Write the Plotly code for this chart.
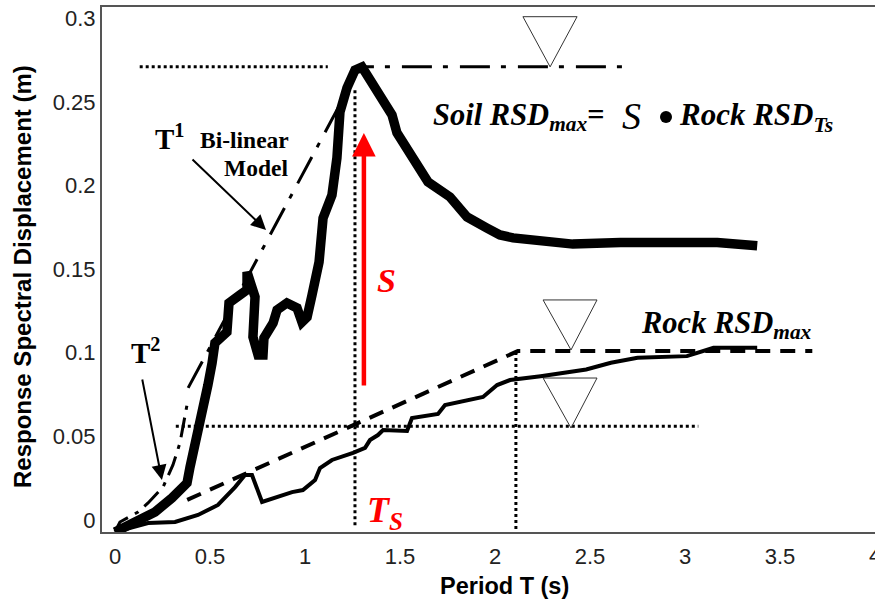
import plotly.graph_objects as go

soil_t = [0, .105, .211, .3, .379, .395, .421, .447, .474, .489, .511, .526, .589, .6, .658, .695, .695, .737, .726, .753, .779, .784, .832, .853, .905, .958, .984, 1.011, 1.037, 1.063, 1.074, 1.095, 1.142, 1.168, 1.184, 1.221, 1.263, 1.3, 1.353, 1.458, 1.484, 1.553, 1.647, 1.763, 1.853, 1.958, 2.026, 2.095, 2.41, 2.66, 2.83, 3.17, 3.38]
soil_rsd = [-.0072, -.0018, .0048, .0132, .0221, .0317, .0437, .058, .0718, .0807, .0939, .1059, .1124, .1298, .1346, .1376, .1483, .1334, .1094, .0987, .0987, .1089, .1178, .1256, .1298, .1268, .1184, .1214, .1346, .1453, .1543, .1806, .1944, .2165, .244, .2584, .2691, .2709, .262, .2422, .2315, .2201, .2022, .1932, .1812, .1746, .1705, .1687, .165, .166, .166, .166, .164]
rock_t = [0, .174, .316, .437, .542, .632, .684, .721, .774, .858, .932, .989, 1.053, 1.079, 1.142, 1.253, 1.316, 1.342, 1.384, 1.411, 1.537, 1.563, 1.7, 1.737, 1.937, 2.011, 2.079, 2.24, 2.48, 2.61, 2.75, 3.01, 3.15, 3.38]
rock_rsd = [-.0072, -.0018, -.0012, .003, .009, .0197, .0269, .0269, .0108, .0138, .0167, .0179, .0239, .0311, .0359, .0401, .0431, .0478, .0508, .0538, .0532, .061, .0634, .0688, .0736, .0807, .0837, .086, .090, .094, .097, .098, .103, .103]
rock_model_t = [.38, 2.12, 3.67]
rock_model_rsd = [.012, .101, .101]
t2_t = [0, .026, .121, .174, .253, .305, .342, .379]
t2_rsd = [-.007, -.0012, .0048, .0102, .0197, .0329, .0461, .0688]
t1_t = [.385, 1.29, 2.67]
t1_rsd = [.079, .271, .271]
guides = [
    ([.13, 1.12], [.271, .271]),
    ([1.263, 1.263], [.257, -.005]),
    ([.32, 3.07], [.056, .056]),
    ([2.11, 2.11], [.1005, -.0066]),
]
triangles = [
    ([2.147, 2.432, 2.29, 2.147], [.301, .301, .271, .301]),
    ([2.253, 2.537, 2.40, 2.253], [.1316, .1316, .1017, .1316]),
    ([2.253, 2.537, 2.40, 2.253], [.0849, .0849, .055, .0849]),
]
product_dot_t = [2.9]
product_dot_rsd = [.241]
x_ticks = [0, .5, 1, 1.5, 2, 2.5, 3, 3.5, 4]
x_labels = ["0", "0.5", "1", "1.5", "2", "2.5", "3", "3.5", "4"]
y_ticks = [0, .05, .1, .15, .2, .25, .3]
y_labels = ["0", "0.05", "0.1", "0.15", "0.2", "0.25", "0.3"]

W, H, L, R, T, B = 875, 602, 102, 875, 7, 532
px = lambda v: (v - L) / (R - L)
py = lambda v: (B - v) / (B - T)

fig = go.Figure()
def line(x, y, width, dash="solid", color="black"):
    fig.add_trace(go.Scatter(x=x, y=y, mode="lines", showlegend=False, hoverinfo="skip",
                             line=dict(color=color, width=width, dash=dash)))

for gx, gy in guides:
    line(gx, gy, 3, "3px,3px")
for tx, ty in triangles:
    line(tx, ty, 1, color="#333333")
line(rock_model_t, rock_model_rsd, 4, "15px,10px")
line(t2_t, t2_rsd, 3, "20px,8px,4px,8px")
line(t1_t, t1_rsd, 3, "30px,11px,5px,12px")
line(rock_t, rock_rsd, 4)
line(soil_t, soil_rsd, 9.5)
fig.add_trace(go.Scatter(x=product_dot_t, y=product_dot_rsd, mode="markers", showlegend=False, hoverinfo="skip",
                         marker=dict(color="black", size=12)))

serif = "Liberation Serif"
def text(x, y, s, size, color="black", family=serif, anchor="center"):
    fig.add_annotation(xref="paper", yref="paper", x=px(x), y=py(y), text=s, showarrow=False,
                       xanchor=anchor, yanchor="middle", align="left",
                       font=dict(family=family, size=size, color=color))
def arrow(x0, y0, x1, y1, width, color, size):
    fig.add_annotation(xref="x", yref="y", axref="x", ayref="y", x=x1, y=y1, ax=x0, ay=y0, text="",
                       showarrow=True, arrowhead=2, arrowwidth=width, arrowcolor=color, arrowsize=size)

arrow(1.31, .0795, 1.31, .2315, 4.5, "#ff0000", 1.05)
arrow(.40, .2165, .795, .1734, 2, "black", 1.5)
arrow(.142, .0849, .247, .0239, 2, "black", 1.5)

text(169, 137, "<b>T<sup>1</sup></b>", 29)
text(244, 140, "<b>Bi-linear</b>", 23.5)
text(256, 168, "<b>Model</b>", 23.5)
text(145, 351, "<b>T<sup>2</sup></b>", 29)
text(386, 280, "<b><i>S</i></b>", 34, "#ff0000")
text(385, 512, "<b><i>T<sub>S</sub></i></b>", 36, "#ff0000")
text(431, 117, "<b><i>Soil RSD<sub>max</sub>=</i></b>", 30.5, anchor="left")
text(631, 116, "<i>S</i>", 38)
text(677, 117, "<b><i>Rock RSD<sub>Ts</sub></i></b>", 31, anchor="left")
text(639, 325, "<b><i>Rock RSD<sub>max</sub></i></b>", 30.5, anchor="left")
text(505, 586, "<b>Period T (s)</b>", 23.5, family="Liberation Sans")
# The last x label sits on the page edge and is cut by it, as in the reference.
text(875, 555, x_labels[-1], 22, "#222222", "Liberation Sans")
fig.add_annotation(xref="paper", yref="paper", x=px(22), y=py(277), text="<b>Response Spectral Displacement (m)</b>",
                   textangle=-90, showarrow=False, xanchor="center", yanchor="middle",
                   font=dict(family="Liberation Sans", size=24, color="black"))

axis = dict(showgrid=False, zeroline=False, showline=True, linecolor="#555555", linewidth=2, ticks="",
            tickfont=dict(family="Liberation Sans", size=22, color="#222222"))
fig.update_layout(
    width=W, height=H, margin=dict(l=L, r=W - R, t=T, b=H - B, pad=0),
    paper_bgcolor="white", plot_bgcolor="white", showlegend=False,
    xaxis=dict(axis, range=[-.0684, 4], tickvals=x_ticks, ticktext=x_labels, mirror=True, ticklabelstandoff=4),
    yaxis=dict(axis, range=[-.00718, .3068], tickvals=y_ticks, ticktext=y_labels),
)
fig.write_html("out.html", post_script="document.body.style.margin='0';", config={"displayModeBar": False})
